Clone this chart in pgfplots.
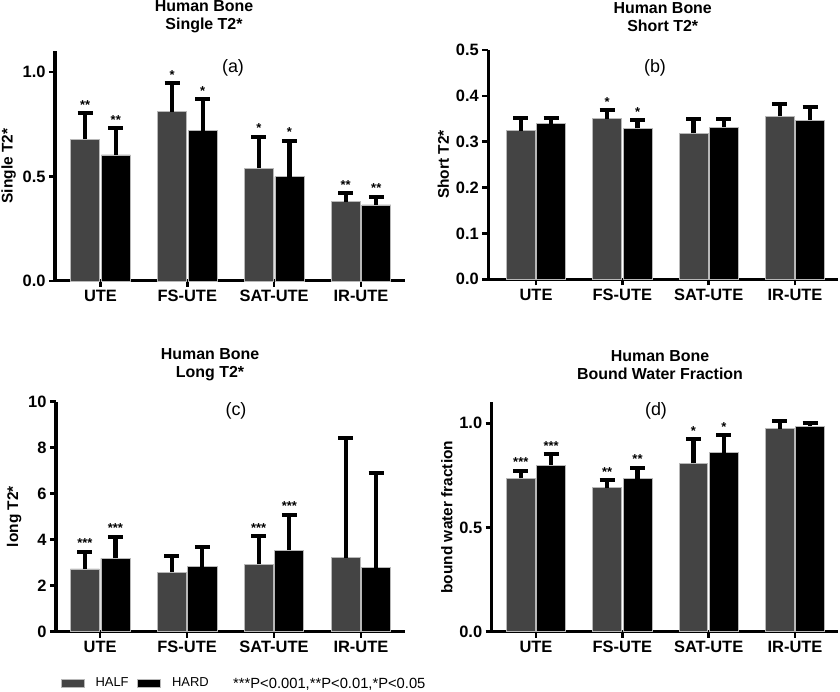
\documentclass[border=0pt]{standalone}
\usepackage{pgfplots}
\pgfplotsset{compat=1.18}
\usepackage{fontspec}
\setmainfont{Liberation Sans}
\definecolor{halfc}{HTML}{444444}
\definecolor{edgec}{HTML}{B8B8B8}

\pgfplotsset{
  bonestyle/.style={
    scale only axis,
    axis x line*=bottom, axis y line*=left,
    axis line style={line width=3bp, black},
    every tick/.style={line width=2.6bp, black},
    major tick length=6bp,
    tick align=outside,
    xtick={0,1,2,3},
    xticklabels={UTE,FS-UTE,SAT-UTE,IR-UTE},
    ymin=0,
    /pgf/number format/assume math mode=true,
    tick label style={font=\bfseries\fontsize{16.5}{16.5}\selectfont},
    ylabel style={font=\bfseries\fontsize{15.5}{15.5}\selectfont},
    ybar, bar width=0.334,
    clip=false,
    error bars/y dir=plus, error bars/y explicit,
    error bars/error bar style={line width=4.2bp, black},
    error bars/error mark options={rotate=90, line width=4bp, mark size=7.5bp, black},
  },
  yfix/.style={y tick label style={/pgf/number format/fixed, /pgf/number format/fixed zerofill, /pgf/number format/precision=1}},
  halfbar/.style={fill=halfc, draw=edgec, line width=0.8bp, bar shift=0pt},
  hardbar/.style={fill=black, draw=edgec, line width=0.8bp, bar shift=0pt},
}
\tikzset{
  stars/.style={anchor=base, yshift=4bp, font=\bfseries\fontsize{13}{13}\selectfont, inner sep=0pt},
  ttl/.style={align=center, font=\bfseries\fontsize{16}{18}\selectfont},
  plab/.style={font=\fontsize{18}{18}\selectfont},
}

\begin{document}
\begin{tikzpicture}
\useasboundingbox (0,0) rectangle (840bp,692bp);

% ---------------- (a) ----------------
\begin{axis}[bonestyle, yfix, at={(55bp,411bp)}, anchor=south west,
  width=350bp, height=229.9bp, xmin=-0.524, xmax=3.507, ymax=1.1,
  ytick={0,0.5,1.0}, ylabel={Single T2*}]
\addplot[halfbar] coordinates {(-0.176,0.679) +- (0,0.123) (0.824,0.810) +- (0,0.136) (1.824,0.539) +- (0,0.151) (2.824,0.380) +- (0,0.040)};
\addplot[hardbar] coordinates {(0.176,0.603) +- (0,0.127) (1.176,0.719) +- (0,0.150) (2.176,0.499) +- (0,0.171) (3.176,0.364) +- (0,0.039)};
\node[stars] at (axis cs:-0.176,0.802) {**};
\node[stars] at (axis cs:0.176,0.730) {**};
\node[stars] at (axis cs:0.824,0.946) {*};
\node[stars] at (axis cs:1.176,0.869) {*};
\node[stars] at (axis cs:1.824,0.690) {*};
\node[stars] at (axis cs:2.176,0.670) {*};
\node[stars] at (axis cs:2.824,0.420) {**};
\node[stars] at (axis cs:3.176,0.403) {**};
\end{axis}

% ---------------- (b) ----------------
\begin{axis}[bonestyle, yfix, at={(488.3bp,412.7bp)}, anchor=south west,
  width=349.7bp, height=229.3bp, xmin=-0.553, xmax=3.498, ymax=0.5,
  ytick={0,0.1,0.2,0.3,0.4,0.5}, ylabel={Short T2*}]
\addplot[halfbar] coordinates {(-0.176,0.324) +- (0,0.028) (0.824,0.350) +- (0,0.019) (1.824,0.318) +- (0,0.032) (2.824,0.355) +- (0,0.027)};
\addplot[hardbar] coordinates {(0.176,0.339) +- (0,0.013) (1.176,0.329) +- (0,0.018) (2.176,0.331) +- (0,0.019) (3.176,0.347) +- (0,0.029)};
\node[stars] at (axis cs:0.824,0.369) {*};
\node[stars] at (axis cs:1.176,0.347) {*};
\end{axis}

% ---------------- (c) ----------------
\begin{axis}[bonestyle, at={(56bp,60.3bp)}, anchor=south west,
  width=349bp, height=230bp, xmin=-0.508, xmax=3.507, ymax=10,
  ytick={0,2,4,6,8,10}, ylabel={long T2*},
  legend columns=2,
  legend style={draw=none, fill=none, inner sep=0pt, outer sep=0pt,
    at={(axis description cs:0.0135,-0.224)}, anchor=west,
    font=\fontsize{13}{13}\selectfont,
    nodes={inner xsep=0pt, inner ysep=1pt},
    /tikz/every odd column/.append style={column sep=11bp},
    /tikz/every even column/.append style={column sep=8.7bp}},
  legend image code/.code={\fill[#1] (0bp,-4bp) rectangle (23bp,4bp);}]
\addplot[halfbar] coordinates {(-0.176,2.73) +- (0,0.75) (0.824,2.58) +- (0,0.71) (1.824,2.94) +- (0,1.22) (2.824,3.22) +- (0,5.21)};
\addlegendentry{HALF}
\addplot[hardbar] coordinates {(0.176,3.19) +- (0,0.94) (1.176,2.83) +- (0,0.84) (2.176,3.55) +- (0,1.54) (3.176,2.78) +- (0,4.11)};
\addlegendentry{HARD}
\node[stars] at (axis cs:-0.176,3.48) {***};
\node[stars] at (axis cs:0.176,4.13) {***};
\node[stars] at (axis cs:1.824,4.16) {***};
\node[stars] at (axis cs:2.176,5.09) {***};
\end{axis}

% ---------------- (d) ----------------
\begin{axis}[bonestyle, yfix, at={(491.7bp,60.3bp)}, anchor=south west,
  width=346.3bp, height=229.2bp, xmin=-0.513, xmax=3.498, ymax=1.1,
  ytick={0,0.5,1.0}, ylabel={bound water fraction}]
\addplot[halfbar] coordinates {(-0.176,0.736) +- (0,0.037) (0.824,0.691) +- (0,0.036) (1.824,0.808) +- (0,0.116) (2.824,0.975) +- (0,0.038)};
\addplot[hardbar] coordinates {(0.176,0.800) +- (0,0.052) (1.176,0.735) +- (0,0.053) (2.176,0.859) +- (0,0.085) (3.176,0.986) +- (0,0.017)};
\node[stars] at (axis cs:-0.176,0.773) {***};
\node[stars] at (axis cs:0.176,0.852) {***};
\node[stars] at (axis cs:0.824,0.727) {**};
\node[stars] at (axis cs:1.176,0.788) {**};
\node[stars] at (axis cs:1.824,0.924) {*};
\node[stars] at (axis cs:2.176,0.944) {*};
\end{axis}

% titles and panel labels
\node[ttl] at (204bp,675bp) {Human Bone\\Single T2*};
\node[ttl] at (662.7bp,675bp) {Human Bone\\Short T2*};
\node[ttl] at (210bp,327bp) {Human Bone\\Long T2*};
\node[ttl] at (660bp,327bp) {Human Bone\\Bound Water Fraction};
\node[plab] at (233bp,624bp) {(a)};
\node[plab] at (655bp,624bp) {(b)};
\node[plab] at (236bp,281.3bp) {(c)};
\node[plab] at (656bp,281.3bp) {(d)};

\node[anchor=base west, inner sep=0pt, font=\fontsize{14.8}{14.8}\selectfont] at (233bp,3.7bp) {***P<0.001,**P<0.01,*P<0.05};
\end{tikzpicture}
\end{document}
